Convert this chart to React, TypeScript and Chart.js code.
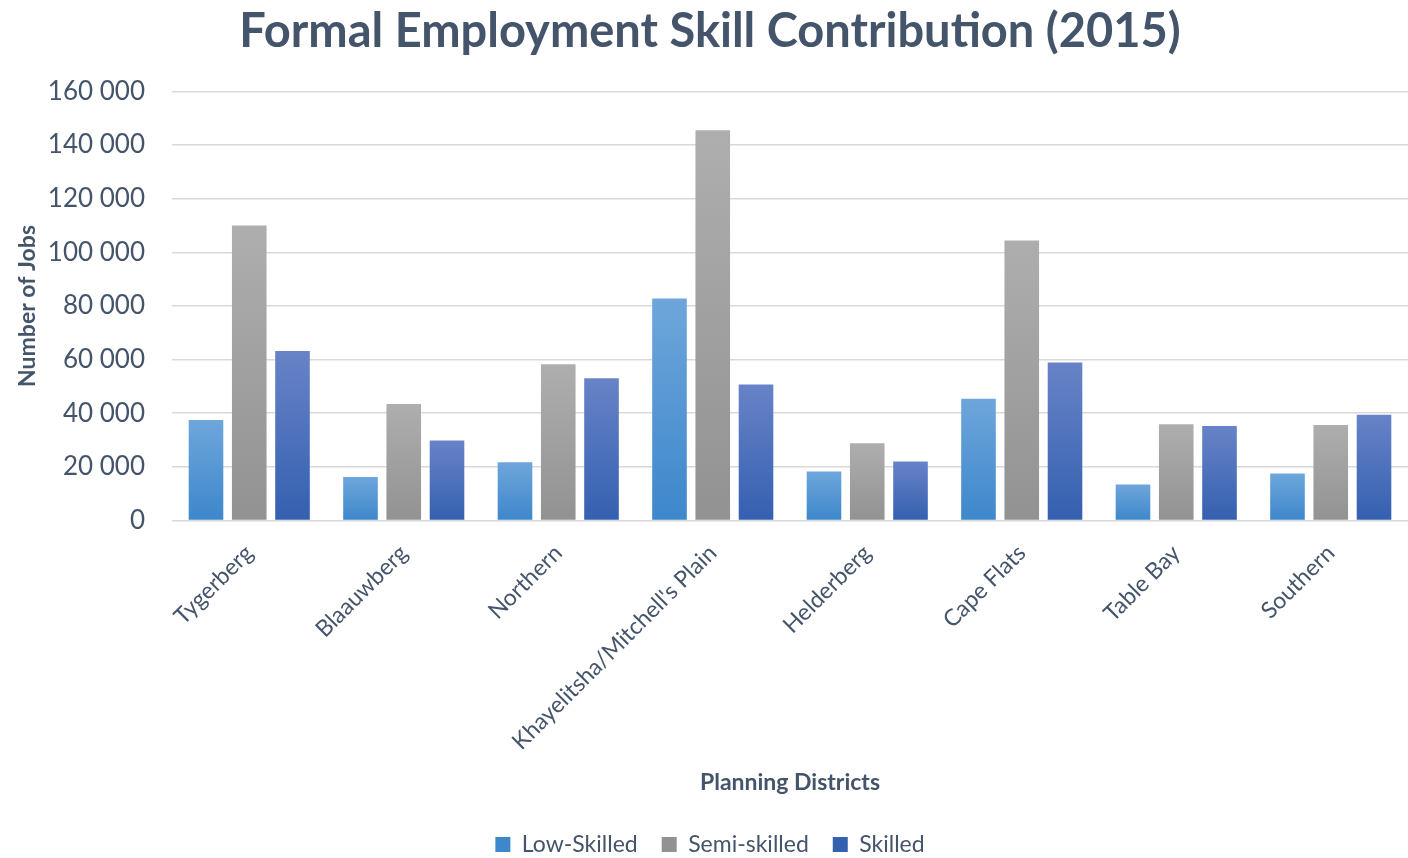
import React, { useEffect, useRef } from "react";
import { Chart, registerables } from "chart.js";

Chart.register(...registerables);

const districts = [
  "Tygerberg",
  "Blaauwberg",
  "Northern",
  "Khayelitsha/Mitchell's Plain",
  "Helderberg",
  "Cape Flats",
  "Table Bay",
  "Southern",
];

const lowSkilled = [37500, 16200, 21700, 82800, 18300, 45400, 13400, 17500];
const semiSkilled = [110000, 43400, 58300, 145500, 28800, 104400, 35900, 35600];
const skilled = [63200, 29800, 53000, 50700, 22000, 58900, 35200, 39400];

const yTicks = [0, 20000, 40000, 60000, 80000, 100000, 120000, 140000, 160000];

const FONT = "Lato, 'Open Sans', sans-serif";
const TEXT = "#44546A";

function gradFill(top: string, bottom: string, legend: string) {
  return (ctx: any) => {
    const chart = ctx.chart;
    if (ctx.type !== "data" || !chart.chartArea || !chart.scales?.y) return legend;
    const y = chart.scales.y;
    const v = ctx.parsed?.y ?? 0;
    const yTop = y.getPixelForValue(v);
    const yBot = y.getPixelForValue(0);
    if (!isFinite(yTop) || !isFinite(yBot) || yTop === yBot) return legend;
    const g = chart.ctx.createLinearGradient(0, yTop, 0, yBot);
    g.addColorStop(0, top);
    g.addColorStop(1, bottom);
    return g;
  };
}

export default function App() {
  const ref = useRef<HTMLCanvasElement | null>(null);

  useEffect(() => {
    document.body.style.margin = "0";
    if (!ref.current) return;
    const chart = new Chart(ref.current, {
      type: "bar",
      data: {
        labels: districts,
        datasets: [
          {
            label: "Low-Skilled",
            data: lowSkilled,
            backgroundColor: gradFill("#6EA6DB", "#3D87CB", "#5B9BD5"),
          },
          {
            label: "Semi-skilled",
            data: semiSkilled,
            backgroundColor: gradFill("#AEAEAE", "#929292", "#A5A5A5"),
          },
          {
            label: "Skilled",
            data: skilled,
            backgroundColor: gradFill("#6883C7", "#3460B0", "#4A6FBE"),
          },
        ],
      },
      options: {
        responsive: false,
        animation: false,
        layout: { padding: { left: 12, right: 0, top: 4, bottom: -8 } },
        datasets: {
          bar: { categoryPercentage: 0.84, barPercentage: 0.8 },
        },
        plugins: {
          title: {
            display: true,
            text: "Formal Employment Skill Contribution (2015)",
            color: TEXT,
            font: { family: FONT, size: 47, weight: "bold" },
            padding: { top: 0, bottom: 31 },
          },
          legend: {
            position: "bottom",
            labels: {
              color: TEXT,
              font: { family: FONT, size: 23 },
              boxWidth: 15,
              boxHeight: 15,
              padding: 24,
            },
          },
          tooltip: { enabled: false },
        },
        scales: {
          x: {
            grid: { display: false },
            border: { display: false },
            ticks: {
              color: TEXT,
              font: { family: FONT, size: 23 },
              maxRotation: 45,
              minRotation: 45,
              autoSkip: false,
              padding: 11,
            },
            title: {
              display: true,
              text: "Planning Districts",
              color: TEXT,
              font: { family: FONT, size: 23, weight: "bold" },
              padding: { top: 2, bottom: 13 },
            },
          },
          y: {
            min: 0,
            max: 160000,
            afterBuildTicks: (axis: any) => {
              axis.ticks = yTicks.map((v) => ({ value: v }));
            },
            afterFit: (axis: any) => {
              axis.width = 160;
            },
            grid: { color: "#D9D9D9", lineWidth: 1.5, drawTicks: false },
            border: { display: false },
            ticks: {
              color: TEXT,
              font: { family: FONT, size: 26 },
              padding: 27,
              callback: (v: any) =>
                String(v).replace(/\B(?=(\d{3})+(?!\d))/g, " "),
            },
            title: {
              display: true,
              text: "Number of Jobs",
              color: TEXT,
              font: { family: FONT, size: 23, weight: "bold" },
              padding: { top: 2, bottom: 6 },
            },
          },
        },
      },
    });
    return () => chart.destroy();
  }, []);

  return <canvas ref={ref} width={1408} height={858} style={{ display: "block" }} />;
}
